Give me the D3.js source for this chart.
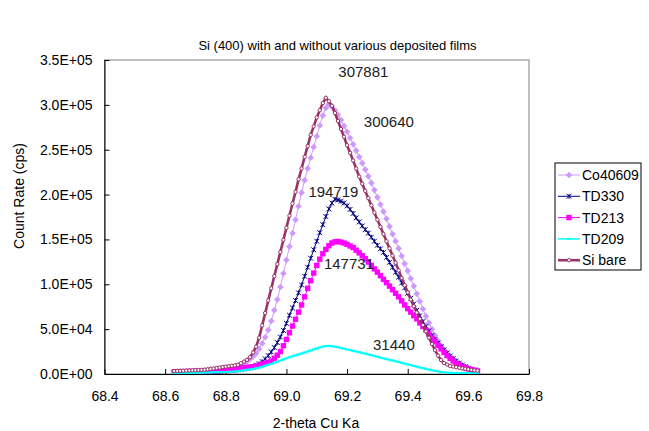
<!DOCTYPE html>
<html><head><meta charset="utf-8">
<script src="https://cdn.jsdelivr.net/npm/d3@7"></script>
<style>
html,body{margin:0;padding:0;background:#fff;}
svg{display:block;font-family:"Liberation Sans",Arial,sans-serif;}
</style></head>
<body><svg id="chart" width="649" height="431"></svg>
<script>
// ---------- DATA ----------
const twoTheta = [
68.63,68.64,68.65,68.66,68.67,68.68,68.69,68.70,68.71,68.72,
68.73,68.74,68.75,68.76,68.77,68.78,68.79,68.80,68.81,68.82,
68.83,68.84,68.85,68.86,68.87,68.88,68.89,68.90,68.91,68.92,
68.93,68.94,68.95,68.96,68.97,68.98,68.99,69.00,69.01,69.02,
69.03,69.04,69.05,69.06,69.07,69.08,69.09,69.10,69.11,69.12,
69.13,69.14,69.15,69.16,69.17,69.18,69.19,69.20,69.21,69.22,
69.23,69.24,69.25,69.26,69.27,69.28,69.29,69.30,69.31,69.32,
69.33,69.34,69.35,69.36,69.37,69.38,69.39,69.40,69.41,69.42,
69.43,69.44,69.45,69.46,69.47,69.48,69.49,69.50,69.51,69.52,
69.53,69.54,69.55,69.56,69.57,69.58,69.59,69.60,69.61,69.62,
69.63];

const co40609 = [
2500,2600,2700,2800,2900,3000,3200,3300,3500,3700,
3900,4200,4500,4800,5100,5500,5900,6300,6800,7400,
8100,9000,10300,12000,14000,16500,19500,23000,28000,34000,
41000,49000,59000,71000,83000,97000,112000,127000,142000,157000,
172000,187000,202000,216000,229000,241000,253000,265000,277000,288000,
296500,300640,298000,294000,289000,283000,276500,270000,263000,256000,
249000,242000,235000,228000,220500,213000,205000,197000,189000,181000,
173000,164500,156000,148000,140000,131500,123000,115000,106500,98000,
89500,81000,72500,64500,57000,50000,43000,37000,31500,26500,
22000,18000,14800,12200,10200,8600,7400,6400,5600,5000,
4500];

const td330 = [
1500,1500,1600,1700,1800,1900,2000,2100,2200,2300,
2400,2500,2600,2800,2900,3100,3300,3500,3700,4000,
4300,4700,5100,5600,6100,6700,8000,9600,11400,13800,
16800,20500,24500,29500,35000,41200,48500,56500,65500,73600,
82000,90500,99300,109000,119000,129000,138500,148000,157500,166500,
175500,184000,190500,194719,194000,192500,190500,187500,183500,179000,
174000,169500,165000,161000,157000,152500,148000,143500,139500,135500,
130000,124500,119000,113500,108000,101500,96000,90000,84500,78000,
71000,65000,58500,53000,48000,43000,38500,34500,30500,27000,
23500,20000,17200,14600,12200,10000,8200,6600,5200,4000,
3000];

const td213 = [
2500,2500,2600,2600,2700,2800,2900,3000,3100,3200,
3300,3400,3600,3800,4000,4200,4500,4800,5100,5400,
5800,6200,6600,7000,7400,7800,8100,8800,9800,10900,
12000,13000,14500,17500,21000,25000,31500,38500,46000,53500,
61000,69000,77000,86000,95500,104000,112500,121000,128000,134000,
139000,143000,146000,147300,147731,147000,146000,144500,142800,141000,
138000,135000,131800,128500,124800,121000,117200,113500,109600,105600,
101800,98000,94000,90000,86000,81500,77000,72800,69000,65000,
61500,57000,53000,49000,44500,40000,36000,32000,28000,24000,
20500,17500,14600,12000,10000,8300,6900,5800,4800,4000,
3300];

const td209 = [
600,700,800,900,1000,1100,1200,1300,1400,1500,
1600,1700,1800,1900,2000,2100,2200,2300,2400,2500,
2800,3200,3600,4100,4600,5100,5700,6300,7000,8000,
9200,10300,11300,12500,13800,15000,16200,17400,18600,19700,
20800,21800,22900,24000,25100,26200,27400,28500,29600,30500,
31200,31440,31000,30500,29800,29000,28200,27400,26600,25800,
25100,24300,23500,22700,21800,21000,20100,19300,18400,17400,
16600,15800,15000,14200,13300,12400,11600,10700,9900,9000,
8200,7300,6500,5700,4900,4200,3500,2900,2300,1900,
1600,1400,1200,1100,1000,1000,900,900,800,800,
800];

const siBare = [
3300,3400,3500,3600,3800,3900,4100,4200,4400,4500,
4800,5200,5700,6200,6700,7200,7700,8200,8700,9200,
9600,10200,12000,13800,15800,18700,24000,30500,40500,54000,
68000,82000,95500,109000,122500,136000,149500,163000,176500,190000,
203000,217000,229000,242000,254000,266500,276000,286000,294000,302000,
307881,304000,299000,291000,282000,273000,264500,255000,246500,238000,
229000,220000,212000,204000,196000,188000,180000,172000,164000,156000,
148000,140000,132000,124000,115500,107000,99000,91000,83000,75500,
68500,61500,54500,47500,40500,33500,26500,20500,15500,12200,
10500,8900,8300,7600,6900,6300,5800,5200,4600,4100,
3700];

const seriesNames = ["Co40609","TD330","TD213","TD209","Si bare"];
const peakLabels  = ["300640","194719","147731","31440","307881"];
const xTicks = [68.4,68.6,68.8,69.0,69.2,69.4,69.6,69.8];
const yTicks = [0,50000,100000,150000,200000,250000,300000,350000];
const titleText = "Si (400) with and without various deposited films";
const xTitle = "2-theta Cu Ka";
const yTitle = "Count Rate  (cps)";

// ---------- LAYOUT / STYLE ----------
const allSeries = [co40609, td330, td213, td209, siBare];
allSeries.forEach((s,i)=>{ if (s.length !== twoTheta.length) throw new Error("length mismatch " + seriesNames[i] + " " + s.length); });

const plot = {left:104.5, right:529, top:60, bottom:374};
const styles = [
  {color:"#CC99FF", width:1,   marker:"diamond"},
  {color:"#000080", width:1,   marker:"star"},
  {color:"#FF00FF", width:1,   marker:"square"},
  {color:"#00FFFF", width:1.5, marker:"dash"},
  {color:"#993366", width:2.6, marker:"circle"}
];
const labelOffsets = [[60,22.5],[-1.5,-2.5],[11,27.5],[65,4.5],[37.5,-21]];

const svg = d3.select("#chart");
const x = d3.scaleLinear().domain([68.4,69.8]).range([plot.left, plot.right]);
const y = d3.scaleLinear().domain([0,350000]).range([plot.bottom, plot.top]);

// plot area frame
svg.append("rect").attr("x",plot.left).attr("y",plot.top)
  .attr("width",plot.right-plot.left).attr("height",plot.bottom-plot.top)
  .attr("fill","#fff").attr("stroke","#808080").attr("stroke-width",1);

const fmtY = v => {
  if (v === 0) return "0.0E+00";
  const e = Math.floor(Math.log10(v));
  const m = v / Math.pow(10,e);
  return m.toFixed(1) + "E+" + String(e).padStart(2,"0");
};

const gy = svg.append("g").attr("transform",`translate(${plot.left},0)`)
  .call(d3.axisLeft(y).tickValues(yTicks).tickFormat(fmtY).tickSizeInner(-5).tickSizeOuter(0).tickPadding(12));
const gx = svg.append("g").attr("transform",`translate(0,${plot.bottom})`)
  .call(d3.axisBottom(x).tickValues(xTicks).tickFormat(d3.format(".1f")).tickSizeInner(-5).tickSizeOuter(0).tickPadding(17));
[gx,gy].forEach(g=>{
  g.select(".domain").attr("stroke","#000");
  g.selectAll(".tick line").attr("stroke","#000");
  g.selectAll(".tick text").attr("fill","#000").style("font-size","14px")
    .style("font-family","'Liberation Sans',Arial,sans-serif");
});

// series
svg.append("clipPath").attr("id","pc").append("rect")
  .attr("x",plot.left).attr("y",plot.top-10).attr("width",plot.right-plot.left).attr("height",plot.bottom-plot.top+10);

function drawMarker(g, type, color, cx, cy){
  if (type==="circle"){
    g.append("circle").attr("cx",cx).attr("cy",cy).attr("r",1.7)
      .attr("fill","#fff").attr("stroke",color).attr("stroke-width",1);
  } else if (type==="diamond"){
    const r=3.3;
    g.append("path").attr("d",`M${cx},${cy-r}L${cx+r},${cy}L${cx},${cy+r}L${cx-r},${cy}Z`).attr("fill",color);
  } else if (type==="square"){
    g.append("rect").attr("x",cx-2.7).attr("y",cy-2.7).attr("width",5.4).attr("height",5.4).attr("fill",color);
  } else if (type==="star"){
    const r=2.4;
    g.append("path").attr("d",`M${cx-r},${cy-r}L${cx+r},${cy+r}M${cx-r},${cy+r}L${cx+r},${cy-r}M${cx},${cy-r}L${cx},${cy+r}`)
      .attr("stroke",color).attr("stroke-width",1).attr("fill","none");
  } else if (type==="dash"){
    g.append("path").attr("d",`M${cx-2},${cy}L${cx+2},${cy}`).attr("stroke",color).attr("stroke-width",2);
  }
}

const line = d3.line().x(d=>x(d[0])).y(d=>y(d[1]));
allSeries.forEach((vals,i)=>{
  const st = styles[i];
  const pts = twoTheta.map((t,j)=>[t, vals[j]]);
  const g = svg.append("g").attr("clip-path","url(#pc)");
  g.append("path").datum(pts).attr("d",line).attr("fill","none")
    .attr("stroke",st.color).attr("stroke-width",st.width);
  pts.forEach(p=>drawMarker(g, st.marker, st.color, x(p[0]), y(p[1])));
});

// peak labels
allSeries.forEach((vals,i)=>{
  const k = d3.maxIndex(vals);
  svg.append("text").attr("x", x(twoTheta[k]) + labelOffsets[i][0])
    .attr("y", y(vals[k]) + labelOffsets[i][1])
    .attr("text-anchor","middle").style("font-size","15px").attr("fill","#222")
    .text(peakLabels[i]);
});

// titles
svg.append("text").attr("x",337.5).attr("y",50).attr("text-anchor","middle")
  .style("font-size","13px").attr("fill","#000").text(titleText);
svg.append("text").attr("x",316).attr("y",428).attr("text-anchor","middle")
  .style("font-size","14px").attr("fill","#000").text(xTitle);
svg.append("text").attr("transform","translate(24,196) rotate(-90)").attr("text-anchor","middle")
  .style("font-size","14px").attr("fill","#000").text(yTitle);

// legend
const lg = svg.append("g");
lg.append("rect").attr("x",555).attr("y",163).attr("width",86).attr("height",107)
  .attr("fill","#fff").attr("stroke","#000").attr("stroke-width",1);
seriesNames.forEach((name,i)=>{
  const cy = 175 + i*21.3;
  const st = styles[i];
  lg.append("path").attr("d",`M558,${cy}L580,${cy}`).attr("stroke",st.color).attr("stroke-width",st.width);
  drawMarker(lg, st.marker, st.color, 569, cy);
  lg.append("text").attr("x",582).attr("y",cy+5).style("font-size","14px").attr("fill","#000").text(name);
});
</script>
</body></html>
